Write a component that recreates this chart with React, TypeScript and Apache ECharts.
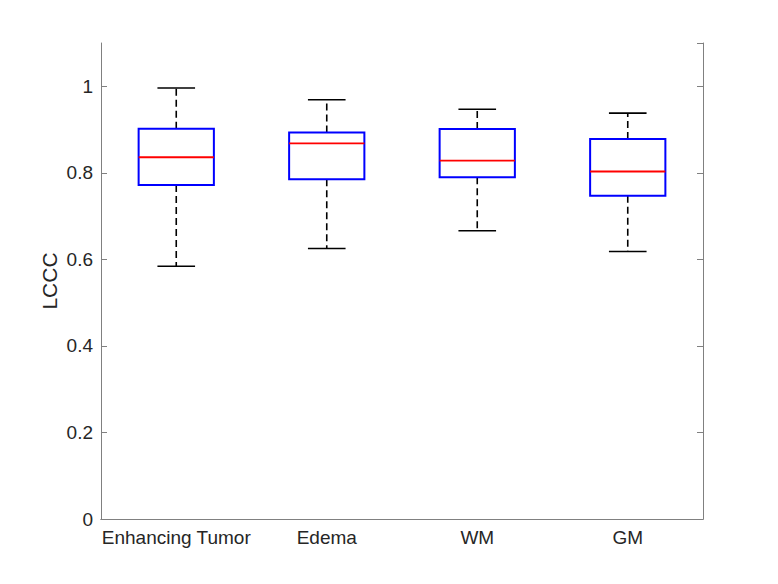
import React, { useEffect, useRef } from "react";
import * as echarts from "echarts";

const categories = ["Enhancing Tumor", "Edema", "WM", "GM"];
const whiskerLow = [0.584, 0.625, 0.666, 0.618];
const q1 = [0.772, 0.785, 0.79, 0.747];
const median = [0.836, 0.868, 0.828, 0.803];
const q3 = [0.902, 0.893, 0.901, 0.878];
const whiskerHigh = [0.996, 0.969, 0.947, 0.938];
const yTicks = [0, 0.2, 0.4, 0.6, 0.8, 1];

export default function App() {
  const ref = useRef<HTMLDivElement>(null);
  useEffect(() => {
    document.body.style.margin = "0";
    const chart = echarts.init(ref.current!, null, { renderer: "svg" });
    const data = categories.map((_, i) => [i, whiskerLow[i], q1[i], median[i], q3[i], whiskerHigh[i]]);
    const font = "Liberation Sans, Arial, Helvetica, sans-serif";
    const axisColor = "#808080";
    const textColor = "#262626";
    chart.setOption({
      animation: false,
      backgroundColor: "#fff",
      grid: { left: 101, right: 75, top: 43, bottom: 65 },
      xAxis: [
        {
          type: "category",
          data: categories,
          position: "bottom",
          axisLine: { lineStyle: { color: axisColor, width: 1 } },
          axisTick: { inside: true, length: 6, alignWithLabel: true, lineStyle: { color: axisColor } },
          axisLabel: { color: textColor, fontSize: 19, fontFamily: font, margin: 9, interval: 0 },
          splitLine: { show: false },
        },
        {
          type: "category",
          data: categories,
          position: "top",
          axisLine: { lineStyle: { color: axisColor, width: 1 } },
          axisTick: { inside: true, length: 6, alignWithLabel: true, lineStyle: { color: axisColor } },
          axisLabel: { show: false },
          splitLine: { show: false },
        },
      ],
      yAxis: [
        {
          type: "value",
          min: 0,
          max: 1.1,
          interval: 0.2,
          name: "LCCC",
          nameLocation: "middle",
          nameGap: 41,
          nameMoveOverlap: false,
          nameTextStyle: { color: textColor, fontSize: 21, fontFamily: font },
          axisLine: { show: true, lineStyle: { color: axisColor, width: 1 } },
          axisTick: { show: true, inside: true, length: 6, lineStyle: { color: axisColor } },
          axisLabel: {
            color: textColor,
            fontSize: 19,
            fontFamily: font,
            margin: 8,
            showMaxLabel: false,
            formatter: (v: number) => {
              const t = yTicks.find((x) => Math.abs(x - v) < 1e-6);
              return t === undefined ? "" : String(t);
            },
          },
          splitLine: { show: false },
        },
        {
          type: "value",
          min: 0,
          max: 1.1,
          interval: 0.2,
          position: "right",
          axisLine: { show: true, lineStyle: { color: axisColor, width: 1 } },
          axisTick: { show: true, inside: true, length: 6, lineStyle: { color: axisColor } },
          axisLabel: { show: false },
          splitLine: { show: false },
        },
      ],
      series: [
        {
          type: "custom",
          xAxisIndex: 0,
          yAxisIndex: 0,
          data,
          renderItem: (params: any, api: any) => {
            const idx = api.value(0);
            const lo = api.value(1);
            const b1 = api.value(2);
            const md = api.value(3);
            const b3 = api.value(4);
            const hi = api.value(5);
            const band = api.size([1, 0])[0];
            const boxW = band * 0.5;
            const capW = band * 0.25;
            const [cx, yLo] = api.coord([idx, lo]);
            const yQ1 = api.coord([idx, b1])[1];
            const yMd = api.coord([idx, md])[1];
            const yQ3 = api.coord([idx, b3])[1];
            const yHi = api.coord([idx, hi])[1];
            const dashStyle = { stroke: "#000", lineWidth: 1.6, lineDash: [7, 4], fill: null };
            const solidBlack = { stroke: "#000", lineWidth: 1.6 };
            return {
              type: "group",
              children: [
                { type: "line", shape: { x1: cx, y1: yQ3, x2: cx, y2: yHi }, style: dashStyle },
                { type: "line", shape: { x1: cx, y1: yQ1, x2: cx, y2: yLo }, style: dashStyle },
                { type: "line", shape: { x1: cx - capW / 2, y1: yHi, x2: cx + capW / 2, y2: yHi }, style: solidBlack },
                { type: "line", shape: { x1: cx - capW / 2, y1: yLo, x2: cx + capW / 2, y2: yLo }, style: solidBlack },
                {
                  type: "rect",
                  shape: { x: cx - boxW / 2, y: yQ3, width: boxW, height: yQ1 - yQ3 },
                  style: { stroke: "#0000ff", lineWidth: 2, fill: "none" },
                },
                { type: "line", shape: { x1: cx - boxW / 2, y1: yMd, x2: cx + boxW / 2, y2: yMd }, style: { stroke: "#ff0000", lineWidth: 1.8 } },
              ],
            };
          },
        },
      ],
    });
    return () => chart.dispose();
  }, []);
  return <div ref={ref} style={{ width: 778, height: 584 }} />;
}
